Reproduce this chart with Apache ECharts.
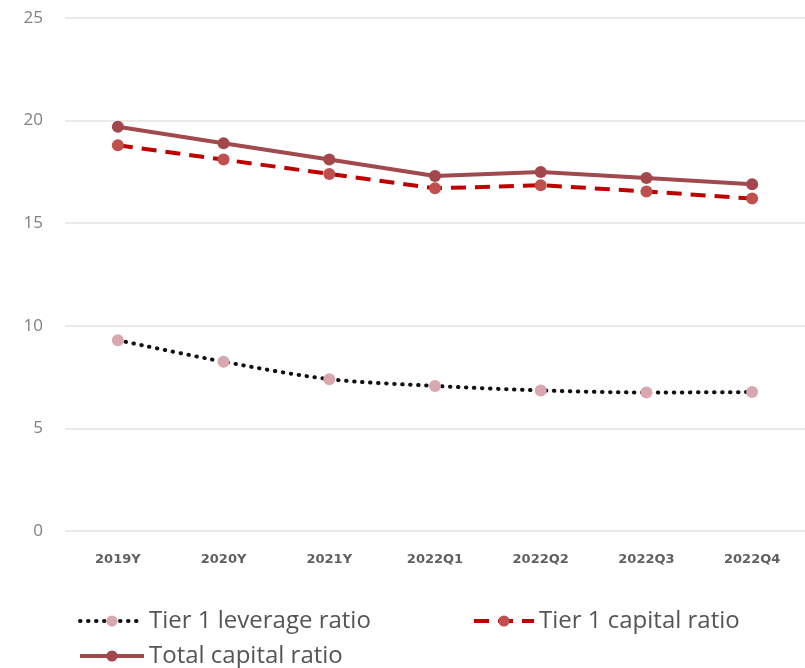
<!DOCTYPE html>
<html><head><meta charset="utf-8">
<script src="https://cdn.jsdelivr.net/npm/echarts@6/dist/echarts.min.js"></script>
<style>html,body{margin:0;padding:0;background:#fff}#c{width:805px;height:668px}</style>
</head><body><div id="c"></div>
<script>
const categories = ['2019Y','2020Y','2021Y','2022Q1','2022Q2','2022Q3','2022Q4'];
const leverage = [9.3, 8.25, 7.4, 7.07, 6.85, 6.75, 6.77];
const tier1 = [18.8, 18.1, 17.4, 16.7, 16.85, 16.55, 16.2];
const total = [19.7, 18.9, 18.1, 17.3, 17.5, 17.2, 16.9];
const yTicks = [0, 5, 10, 15, 20, 25];

const chart = echarts.init(document.getElementById('c'));
const legendText = {fontFamily:'Open Sans', fontSize:24, color:'#555555'};
const legendBase = {itemWidth:64, itemHeight:14, textStyle:legendText, lineStyle:{width:4}, padding:0};
chart.setOption({
  animation:false,
  grid:{left:65, top:18, width:747, height:513},
  xAxis:{type:'category', data:categories, boundaryGap:true,
    axisLine:{show:false}, axisTick:{show:false},
    axisLabel:{fontFamily:'DejaVu Sans', fontSize:13, fontWeight:'bold', color:'#606060', margin:22}},
  yAxis:{type:'value', min:yTicks[0], max:yTicks[yTicks.length-1], interval:5,
    axisLine:{show:false}, axisTick:{show:false},
    splitLine:{lineStyle:{color:'#e3e3e3', width:1.5}},
    axisLabel:{fontFamily:'Open Sans', fontSize:17, color:'#808080', margin:22}},
  legend:[
    Object.assign({data:['Tier 1 leverage ratio'], left:78, top:609}, legendBase),
    Object.assign({data:['Tier 1 capital ratio'], left:472, top:609}, legendBase, {itemWidth:60}),
    Object.assign({data:['Total capital ratio'], left:78, top:644}, legendBase)
  ],
  series:[
    {name:'Tier 1 leverage ratio', type:'line', data:leverage, smooth:0.3,
      symbol:'circle', symbolSize:12,
      itemStyle:{color:'#d8a7b0'},
      lineStyle:{color:'#111', width:4, type:[0.5,7.5], cap:'round'}},
    {name:'Tier 1 capital ratio', type:'line', data:tier1,
      symbol:'circle', symbolSize:12,
      itemStyle:{color:'#c0504d'},
      lineStyle:{color:'#c00000', width:4, type:[15,9]}},
    {name:'Total capital ratio', type:'line', data:total,
      symbol:'circle', symbolSize:12,
      itemStyle:{color:'#a3474c'},
      lineStyle:{color:'#a04a4d', width:4}}
  ]
});
</script></body></html>
